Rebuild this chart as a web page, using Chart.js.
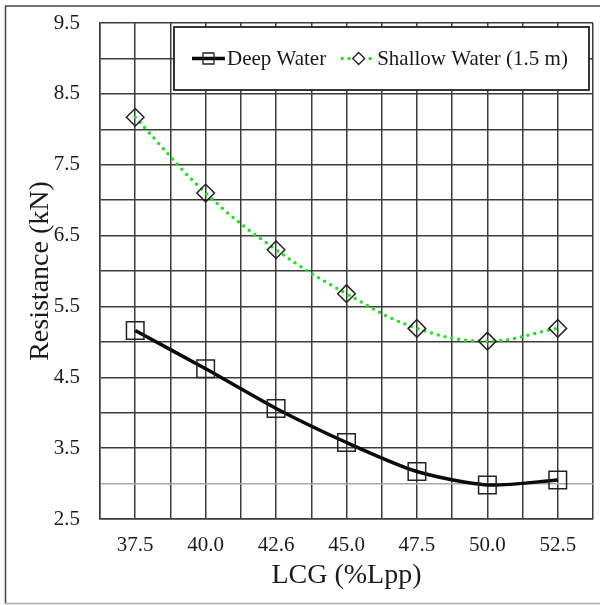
<!DOCTYPE html>
<html>
<head>
<meta charset="utf-8">
<script src="https://cdn.jsdelivr.net/npm/chart.js@4.4.1/dist/chart.umd.min.js"></script>
<style>
  html, body { margin: 0; padding: 0; background: #fff; }
  #wrap { width: 600px; height: 605px; position: relative; }
</style>
</head>
<body>
<div id="wrap"><canvas id="c" width="600" height="605"></canvas></div>
<script>
const categories = ['37.5', '40.0', '42.6', '45.0', '47.5', '50.0', '52.5'];
const deepWater = [5.16, 4.62, 4.06, 3.58, 3.17, 2.98, 3.05];
const shallowWater = [8.17, 7.10, 6.30, 5.68, 5.19, 5.01, 5.19];
const yTickLabels = ['2.5', '3.5', '4.5', '5.5', '6.5', '7.5', '8.5', '9.5'];
const seriesNames = ['Deep Water', 'Shallow Water (1.5 m)'];
const xTitle = 'LCG (%Lpp)';
const yTitle = 'Resistance (kN)';

const SERIF = "'Liberation Serif', 'Times New Roman', serif";
const GREEN = '#22e022';
const GRID = '#3c3c3c';

const toPoints = arr => arr.map((v, i) => ({ x: i, y: v }));

const framePlugin = {
  id: 'frame',
  beforeDraw(chart) {
    const ctx = chart.ctx;
    ctx.save();
    ctx.fillStyle = '#fff';
    ctx.fillRect(0, 0, chart.width, chart.height);
    ctx.restore();
  },
  afterDraw(chart) {
    const ctx = chart.ctx;
    ctx.save();
    ctx.lineWidth = 1.5;
    ctx.strokeStyle = '#444';
    ctx.beginPath();
    ctx.moveTo(5.5, 604);
    ctx.lineTo(5.5, 6);
    ctx.lineTo(600, 6);
    ctx.stroke();
    ctx.strokeStyle = '#aaa';
    ctx.beginPath();
    ctx.moveTo(5, 603.5);
    ctx.lineTo(600, 603.5);
    ctx.stroke();
    ctx.restore();
  }
};

const boxLegend = {
  id: 'boxLegend',
  afterDatasetsDraw(chart) {
    const ctx = chart.ctx;
    const a = chart.chartArea;
    const left = a.left + 74, top = a.top + 4, right = a.right - 4, bottom = top + 63;
    const cy = (top + bottom) / 2 + 1;
    ctx.save();
    ctx.fillStyle = '#fff';
    ctx.fillRect(left, top, right - left, bottom - top);
    ctx.lineWidth = 1.8;
    ctx.strokeStyle = '#222';
    ctx.strokeRect(left, top, right - left, bottom - top);
    ctx.font = '21px ' + SERIF;
    ctx.textBaseline = 'middle';
    ctx.fillStyle = '#1a1a1a';
    let x = left + 18;
    chart.data.datasets.forEach((ds, i) => {
      const sx0 = x, sx1 = x + 33, mx = (sx0 + sx1) / 2;
      ctx.save();
      ctx.strokeStyle = ds.borderColor;
      ctx.lineWidth = ds.borderWidth;
      ctx.lineCap = ds.borderCapStyle || 'butt';
      ctx.setLineDash(ds.borderDash || []);
      ctx.beginPath();
      ctx.moveTo(sx0, cy - 1);
      ctx.lineTo(sx1, cy - 1);
      ctx.stroke();
      ctx.restore();
      ctx.save();
      ctx.strokeStyle = '#222';
      ctx.fillStyle = '#fff';
      ctx.lineWidth = 1.3;
      ctx.beginPath();
      if (ds.pointStyle === 'rect') {
        ctx.rect(mx - 5.5, cy - 6.5, 11, 11);
        ctx.stroke();
      } else {
        const r = 6;
        ctx.moveTo(mx - r, cy - 1);
        ctx.lineTo(mx, cy - 1 - r);
        ctx.lineTo(mx + r, cy - 1);
        ctx.lineTo(mx, cy - 1 + r);
        ctx.closePath();
        ctx.fill();
        ctx.stroke();
      }
      ctx.restore();
      ctx.fillText(ds.label, sx1 + 2, cy);
      x = sx1 + 2 + ctx.measureText(ds.label).width + 16;
    });
    ctx.restore();
  }
};

new Chart(document.getElementById('c'), {
  type: 'line',
  data: {
    datasets: [
      {
        label: seriesNames[0],
        data: toPoints(deepWater),
        borderColor: '#0a0a0a',
        borderWidth: 3.5,
        tension: 0.25,
        pointStyle: 'rect',
        pointRadius: 12.4,
        pointBorderWidth: 1.5,
        pointBorderColor: '#222',
        pointBackgroundColor: 'rgba(0,0,0,0)',
        fill: false
      },
      {
        label: seriesNames[1],
        data: toPoints(shallowWater),
        borderColor: GREEN,
        borderWidth: 3.5,
        borderDash: [0, 7],
        borderCapStyle: 'round',
        tension: 0.4,
        pointStyle: 'rectRot',
        pointRadius: 8.8,
        pointBorderWidth: 1.5,
        pointBorderColor: '#222',
        pointBackgroundColor: 'rgba(0,0,0,0)',
        fill: false
      }
    ]
  },
  options: {
    responsive: false,
    animation: false,
    events: [],
    layout: { autoPadding: false, padding: { left: 6, top: 23, right: 7, bottom: 6 } },
    plugins: {
      legend: { display: false },
      tooltip: { enabled: false },
      title: { display: false }
    },
    scales: {
      x: {
        type: 'linear',
        min: -0.5,
        max: categories.length - 0.5,
        afterFit(scale) {
          scale.height = 80;
          scale.paddingLeft = 0; scale.paddingRight = 0;
          scale.paddingTop = 0; scale.paddingBottom = 0;
        },
        afterBuildTicks(scale) {
          const t = [];
          for (let i = 0; i <= categories.length * 2; i++) t.push({ value: -0.5 + i * 0.5 });
          scale.ticks = t;
        },
        ticks: {
          autoSkip: false,
          maxRotation: 0,
          padding: 14,
          color: '#1a1a1a',
          font: { family: SERIF, size: 21 },
          callback: v => (Number.isInteger(v) ? categories[v] : '')
        },
        grid: { color: GRID, lineWidth: 1.5, drawTicks: false },
        border: { color: GRID, width: 1.5 },
        title: {
          display: true,
          text: xTitle,
          color: '#1a1a1a',
          font: { family: SERIF, size: 28 },
          padding: { top: 0, bottom: 7 }
        }
      },
      y: {
        min: 2.5,
        max: 9.5,
        afterFit(scale) {
          scale.width = 94;
          scale.paddingLeft = 0; scale.paddingRight = 0;
          scale.paddingTop = 0; scale.paddingBottom = 0;
        },
        ticks: {
          stepSize: 0.5,
          padding: 20,
          color: '#1a1a1a',
          font: { family: SERIF, size: 21 },
          callback: v => {
            const s = Number(v).toFixed(1);
            return yTickLabels.includes(s) ? s : '';
          }
        },
        grid: {
          color: ctx => (ctx.tick && Math.abs(ctx.tick.value - 3.0) < 1e-6 ? '#a8a8a8' : GRID),
          lineWidth: 1.5,
          drawTicks: false
        },
        border: { color: GRID, width: 1.5 },
        title: {
          display: true,
          text: yTitle,
          color: '#1a1a1a',
          font: { family: SERIF, size: 28 },
          padding: { top: 18, bottom: 0 }
        }
      }
    }
  },
  plugins: [framePlugin, boxLegend]
});
</script>
</body>
</html>
